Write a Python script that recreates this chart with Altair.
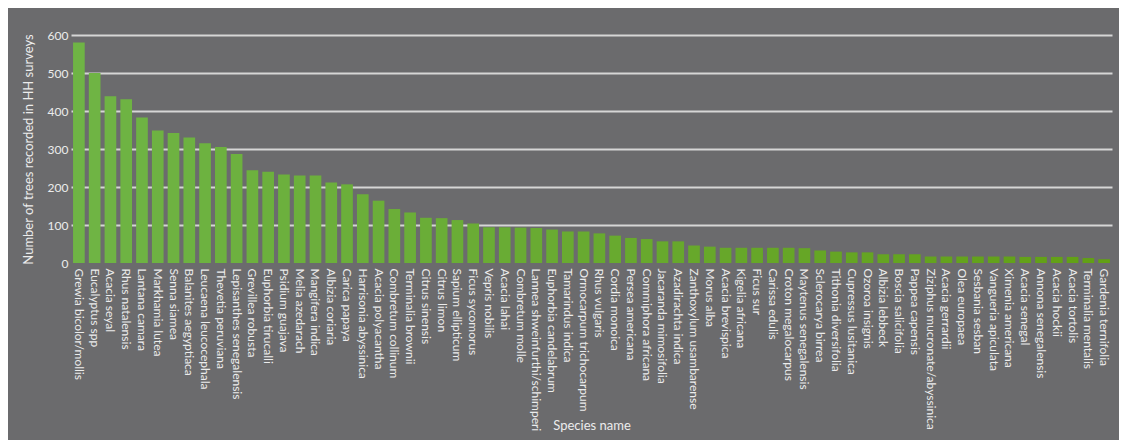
import altair as alt
import pandas as pd

species = [
    "Grewia bicolor/mollis", "Eucalyptus spp", "Acacia seyal", "Rhus natalensis",
    "Lantana camara", "Markhamia lutea", "Senna siamea", "Balanites aegyptiaca",
    "Leucaena leucocephala", "Thevetia peruviana", "Lepisanthes senegalensis",
    "Grevillea robusta", "Euphorbia tirucalli", "Psidium guajava", "Melia azedarach",
    "Mangifera indica", "Albizia coriaria", "Carica papaya", "Harrisonia abyssinica",
    "Acacia polyacantha", "Combretum collinum", "Terminalia brownii", "Citrus sinensis",
    "Citrus limon", "Sapium ellipticum", "Ficus sycomorus", "Vepris nobilis",
    "Acacia lahai", "Combretum molle", "Lannea shweinfurthi/schimperi",
    "Euphorbia candelabrum", "Tamarindus indica", "Ormocarpum trichocarpum",
    "Rhus vulgaris", "Cordia monoica", "Persea americana", "Commiphora africana",
    "Jacaranda mimosifolia", "Azadirachta indica", "Zanthoxylum usambarense",
    "Morus alba", "Acacia brevispica", "Kigelia africana", "Ficus sur",
    "Carissa edulis", "Croton megalocarpus", "Maytenus senegalensis",
    "Sclerocarya birrea", "Tithonia diversifolia", "Cupressus lusitanica",
    "Ozoroa insignis", "Albizia lebbeck", "Boscia salicifolia", "Pappea capensis",
    "Ziziphus mucronate/abyssinica", "Acacia gerrardii", "Olea europaea",
    "Sesbania sesban", "Vangueria apiculata", "Ximenia americana", "Acacia senegal",
    "Annona senegalensis", "Acacia hockii", "Acacia tortolis", "Terminalia mentalis",
    "Gardenia ternifolia",
]

counts = [
    580, 500, 439, 431, 383, 349, 342, 330, 315, 305, 287,
    244, 240, 233, 230, 230, 212, 207, 181, 164, 142, 133,
    119, 118, 113, 104, 94, 94, 93, 92, 88, 83, 83, 78, 72,
    66, 63, 57, 57, 46, 43, 40, 40, 40, 40, 40, 39, 33, 30,
    28, 28, 23, 23, 23, 17, 17, 17, 17, 17, 17, 16, 16, 16,
    16, 13, 10,
]

y_ticks = [0, 100, 200, 300, 400, 500, 600]

df = pd.DataFrame({
    "species": species,
    "count": counts,
    "rank": list(range(len(species))),
})

FONT = "Lato"
TXT = "#ececec"

chart = alt.Chart(df).mark_bar().encode(
    x=alt.X(
        "species:N",
        sort=species,
        title="Species name",
        scale=alt.Scale(paddingInner=0.26, paddingOuter=0.13),
        axis=alt.Axis(
            labelAngle=90,
            labelAlign="left",
            labelBaseline="middle",
            labelPadding=5,
            labelLimit=400,
            labelFont=FONT,
            labelFontSize=12,
            labelColor=TXT,
            labelOverlap=False,
            domain=False,
            ticks=False,
            titleFont=FONT,
            titleFontSize=13,
            titleFontWeight="normal",
            titleColor=TXT,
            titleY=162,
            titleBaseline="middle",
        ),
    ),
    y=alt.Y(
        "count:Q",
        title="Number of trees recorded in HH surveys",
        scale=alt.Scale(domain=[0, 600]),
        axis=alt.Axis(
            values=y_ticks,
            labelFont=FONT,
            labelFontSize=12,
            labelColor=TXT,
            labelPadding=3,
            domain=False,
            ticks=False,
            grid=True,
            gridColor="#d6d6d6",
            gridWidth=2,
            gridOpacity={"condition": {"test": "datum.value === 0", "value": 0}, "value": 1},
            titleFont=FONT,
            titleFontSize=13,
            titleFontWeight="normal",
            titleColor=TXT,
            titleX=-43,
            titleY=114,
            titleBaseline="middle",
            titleAlign="center",
        ),
    ),
    color=alt.Color(
        "rank:Q",
        scale=alt.Scale(range=["#6fb445", "#62a014"]),
        legend=None,
    ),
).properties(
    width=1041,
    height=228,
    autosize="none",
    padding={"left": 63, "top": 27, "right": 7, "bottom": 177},
    background="#6b6b6d",
).configure_view(
    stroke=None,
)

chart.save("out.html", embed_options={"renderer": "svg", "actions": False})
